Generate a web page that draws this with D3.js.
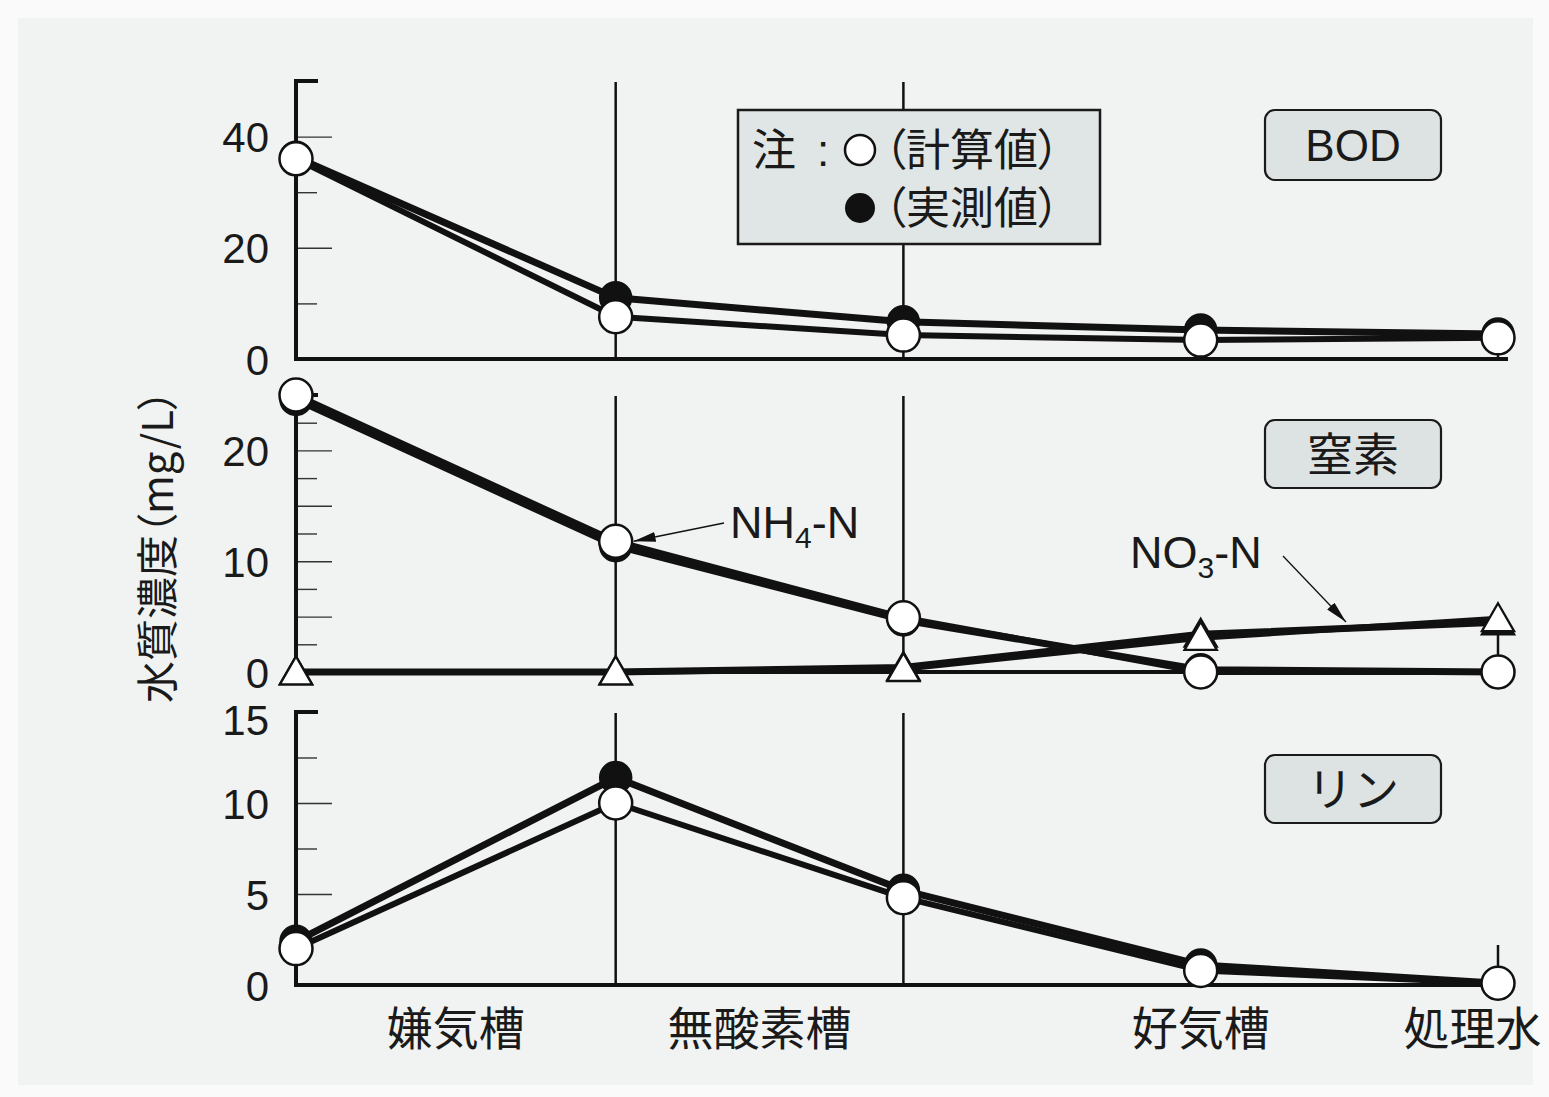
<!DOCTYPE html>
<html>
<head>
<meta charset="utf-8">
<script src="https://cdn.jsdelivr.net/npm/d3@7"></script>
<style>
  body { margin: 0; background: #f9faf9; }
  svg text { fill: #1a1a1a; }
  .palt { font-feature-settings: "palt" 1; }
</style>
</head>
<body>
<div id="chart"></div>
<script>
// sampling points along the treatment line (relative position, 1 = length of the anaerobic tank)
const samplePos = [0, 1, 1.9, 2.83, 3.76];
const dividerPos = [1, 1.9];
const stageLabels = ["嫌気槽", "無酸素槽", "好気槽", "処理水"];
const stageLabelPos = [0.5, 1.45, 2.83, 3.68];

// BOD (mg/L)
const bodCalc = [36, 7.6, 4.3, 3.4, 3.8];
const bodMeas = [36.3, 11.0, 6.7, 5.2, 4.5];
// nitrogen (mg/L)
const nh4Calc = [25, 11.8, 4.9, 0, 0];
const nh4Meas = [24.6, 11.4, 4.7, 0.2, 0];
const no3Calc = [0, 0, 0.3, 3.1, 4.8];
const no3Meas = [0, 0, 0.4, 3.4, 4.5];
// phosphorus (mg/L)
const pCalc = [2.0, 10.0, 4.8, 0.8, 0.1];
const pMeas = [2.4, 11.4, 5.2, 1.1, 0.1];

const bodTicks = [0, 20, 40];
const nTicks = [0, 10, 20];
const pTicks = [0, 5, 10, 15];

const width = 1549, height = 1097;
const latin = "'Liberation Sans', Arial, sans-serif";
const cjk = "'Noto Sans CJK JP', sans-serif";

const svg = d3.select("#chart").append("svg")
    .attr("width", width)
    .attr("height", height);

svg.append("rect")
    .attr("x", 18).attr("y", 18)
    .attr("width", width - 34).attr("height", height - 30)
    .attr("fill", "#f0f3f1");

const defs = svg.append("defs");
defs.append("marker")
    .attr("id", "arrow")
    .attr("viewBox", "0 0 22 10")
    .attr("refX", 22).attr("refY", 5)
    .attr("markerWidth", 22).attr("markerHeight", 10)
    .attr("markerUnits", "userSpaceOnUse")
    .attr("orient", "auto")
    .append("path")
    .attr("d", "M0,0 L22,5 L0,10 Z")
    .attr("fill", "#111");

const x = d3.scaleLinear().domain([0, 3.76]).range([296, 1498]);

const panels = [
    { name: "BOD", max: 50, top: 81, bottom: 359, labels: bodTicks, major: [20, 40], minor: [10, 30], box: [110, 70],
      series: [{ v: bodMeas, kind: "circle", filled: true }, { v: bodCalc, kind: "circle", filled: false }] },
    { name: "窒素", max: 25, top: 395, bottom: 672, labels: nTicks, major: [5, 10, 15, 20], minor: [2.5, 7.5, 12.5, 17.5, 22.5], box: [420, 68],
      series: [{ v: no3Meas, kind: "tri", filled: true }, { v: no3Calc, kind: "tri", filled: false },
               { v: nh4Meas, kind: "circle", filled: true }, { v: nh4Calc, kind: "circle", filled: false }] },
    { name: "リン", max: 15, top: 712, bottom: 985, labels: pTicks, major: [5, 10], minor: [2.5, 7.5, 12.5], box: [755, 68],
      series: [{ v: pMeas, kind: "circle", filled: true }, { v: pCalc, kind: "circle", filled: false }] }
];

panels.forEach(p => {
    const y = d3.scaleLinear().domain([0, p.max]).range([p.bottom, p.top]);
    const g = svg.append("g");
    p.y = y;

    // stage dividers
    g.selectAll(".divider").data(dividerPos).enter().append("line")
        .attr("x1", d => x(d)).attr("x2", d => x(d))
        .attr("y1", p.top + 1).attr("y2", p.bottom)
        .attr("stroke", "#111").attr("stroke-width", 2.5);

    // right end stub
    g.append("line")
        .attr("x1", x(3.76)).attr("x2", x(3.76))
        .attr("y1", p.bottom - 40).attr("y2", p.bottom)
        .attr("stroke", "#111").attr("stroke-width", 2.5);

    // inward ticks
    g.append("g").attr("transform", `translate(${x(0)},0)`)
        .call(d3.axisRight(y).tickValues(p.major).tickSize(36).tickFormat(""))
        .call(a => a.select(".domain").remove())
        .call(a => a.selectAll("line").attr("stroke", "#333").attr("stroke-width", 1.4));
    g.append("g").attr("transform", `translate(${x(0)},0)`)
        .call(d3.axisRight(y).tickValues(p.minor).tickSize(21).tickFormat(""))
        .call(a => a.select(".domain").remove())
        .call(a => a.selectAll("line").attr("stroke", "#333").attr("stroke-width", 1.4));

    // tick labels (the top label of the lowest panel sits a little lower, as in the original)
    g.append("g").attr("transform", `translate(${x(0)},0)`)
        .call(d3.axisLeft(y).tickValues(p.labels).tickSize(0).tickPadding(27).tickFormat(d3.format("d")))
        .call(a => a.select(".domain").remove())
        .call(a => a.selectAll("text")
            .attr("font-family", latin).attr("font-size", 42).attr("fill", "#1a1a1a")
            .attr("dy", d => (d === p.max ? 7 : 0) + 15));

    // axes
    g.append("path")
        .attr("d", `M${x(0) + 22},${p.top} H${x(0)} V${p.bottom} H${x(3.76) + 10}`)
        .attr("fill", "none").attr("stroke", "#111").attr("stroke-width", 4);

    // panel name box
    g.append("rect")
        .attr("x", 1265).attr("y", p.box[0])
        .attr("width", 176).attr("height", p.box[1])
        .attr("rx", 10)
        .attr("fill", "#dde3e2").attr("stroke", "#1a1a1a").attr("stroke-width", 2.2);
    g.append("text")
        .attr("x", 1353).attr("y", p.box[0] + p.box[1] / 2)
        .attr("dy", "0.36em")
        .attr("text-anchor", "middle")
        .attr("font-family", p.name === "BOD" ? latin : cjk)
        .attr("font-size", p.name === "BOD" ? 44 : 46)
        .text(p.name);
});

// lines first, then markers on top
panels.forEach(p => {
    const line = d3.line().x((d, i) => x(samplePos[i])).y(d => p.y(d));
    p.series.forEach(s => {
        svg.append("path")
            .attr("d", line(s.v))
            .attr("fill", "none")
            .attr("stroke", "#111")
            .attr("stroke-width", s.filled ? 7 : 6)
            .attr("stroke-linejoin", "round");
    });
});

const tri = d3.symbol().type(d3.symbolTriangle).size(450);
panels.forEach(p => {
    p.series.forEach(s => {
        const pts = s.v.map((d, i) => [x(samplePos[i]), p.y(d)]);
        if (s.kind === "circle") {
            svg.append("g").selectAll("circle").data(pts).enter().append("circle")
                .attr("cx", d => d[0]).attr("cy", d => d[1])
                .attr("r", s.filled ? 15.5 : 16.5)
                .attr("fill", s.filled ? "#111" : "#fff")
                .attr("stroke", "#111").attr("stroke-width", 2.5);
        } else {
            svg.append("g").selectAll("path").data(pts).enter().append("path")
                .attr("d", tri)
                .attr("transform", d => `translate(${d[0]},${d[1] + 3})`)
                .attr("fill", s.filled ? "#111" : "#fff")
                .attr("stroke", "#111").attr("stroke-width", 2.3);
        }
    });
});

// legend
const lg = svg.append("g");
lg.append("rect")
    .attr("x", 738).attr("y", 110).attr("width", 362).attr("height", 134)
    .attr("fill", "#dfe6e5").attr("stroke", "#1a1a1a").attr("stroke-width", 2.5);
lg.append("text").attr("x", 752).attr("y", 150).attr("dy", "0.36em")
    .attr("font-family", cjk).attr("font-size", 44).text("注");
lg.append("text").attr("x", 817).attr("y", 150).attr("dy", "0.36em")
    .attr("font-family", latin).attr("font-size", 44).text(":");
lg.append("circle").attr("cx", 860).attr("cy", 150).attr("r", 15)
    .attr("fill", "#fff").attr("stroke", "#111").attr("stroke-width", 2.5);
lg.append("text").attr("class", "palt").attr("x", 884).attr("y", 150).attr("dy", "0.36em")
    .attr("font-family", cjk).attr("font-size", 44).text("（計算値）");
lg.append("circle").attr("cx", 860).attr("cy", 208).attr("r", 15).attr("fill", "#111");
lg.append("text").attr("class", "palt").attr("x", 884).attr("y", 208).attr("dy", "0.36em")
    .attr("font-family", cjk).attr("font-size", 44).text("（実測値）");

// series annotations
const nP = panels[1];
const nh4 = svg.append("text").attr("x", 730).attr("y", 538)
    .attr("font-family", latin).attr("font-size", 45);
nh4.append("tspan").text("NH");
nh4.append("tspan").attr("font-size", 30).attr("dy", 10).text("4");
nh4.append("tspan").attr("dy", -10).text("-N");
svg.append("line")
    .attr("x1", 724).attr("y1", 523)
    .attr("x2", x(samplePos[1]) + 18).attr("y2", nP.y(nh4Calc[1]))
    .attr("stroke", "#111").attr("stroke-width", 1.3)
    .attr("marker-end", "url(#arrow)");

const no3 = svg.append("text").attr("x", 1130).attr("y", 568)
    .attr("font-family", latin).attr("font-size", 45);
no3.append("tspan").text("NO");
no3.append("tspan").attr("font-size", 30).attr("dy", 10).text("3");
no3.append("tspan").attr("dy", -10).text("-N");
svg.append("line")
    .attr("x1", 1283).attr("y1", 556)
    .attr("x2", 1346).attr("y2", 622)
    .attr("stroke", "#111").attr("stroke-width", 1.3)
    .attr("marker-end", "url(#arrow)");

// x labels
svg.append("g").selectAll("text").data(stageLabels).enter().append("text")
    .attr("x", (d, i) => x(stageLabelPos[i]))
    .attr("y", 1028).attr("dy", "0.36em")
    .attr("text-anchor", "middle")
    .attr("font-family", cjk).attr("font-size", 46)
    .text(d => d);

// y title
svg.append("text")
    .attr("class", "palt")
    .attr("transform", "translate(158,546) rotate(-90)")
    .attr("text-anchor", "middle").attr("dy", "0.36em")
    .attr("font-family", cjk).attr("font-size", 42)
    .text("水質濃度（mg/L）");
</script>
</body>
</html>
